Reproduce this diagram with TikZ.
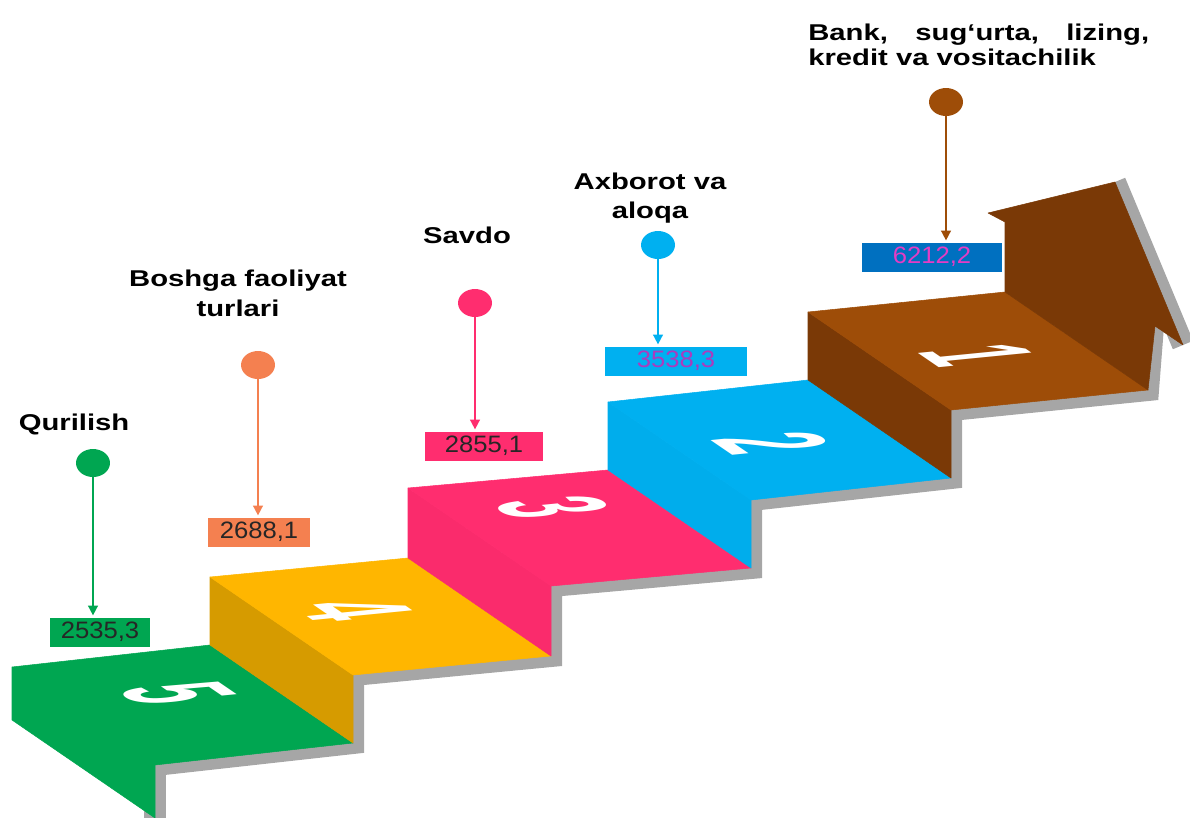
\documentclass[tikz,border=0pt]{standalone}
\usepackage{fontspec}
\usepackage{tikz}
\usepackage{xcolor}
\usetikzlibrary{arrows.meta,shapes.geometric}

\newfontfamily\labfont[FakeStretch=1.28]{Liberation Sans}
\newfontfamily\numfont[FakeStretch=1.08]{Liberation Sans}
\newfontfamily\digfont{Liberation Sans}

\definecolor{grn}{RGB}{0,166,81}
\definecolor{yel}{RGB}{255,182,0}
\definecolor{yeldk}{RGB}{214,155,0}
\definecolor{pnk}{RGB}{255,45,111}
\definecolor{pnkdk}{RGB}{250,43,108}
\definecolor{blu}{RGB}{0,176,240}
\definecolor{bludk}{RGB}{0,173,236}
\definecolor{brn}{RGB}{158,77,8}
\definecolor{brndk}{RGB}{122,57,6}
\definecolor{gry}{RGB}{166,166,166}
\definecolor{org}{RGB}{244,128,80}
\definecolor{dblu}{RGB}{0,112,192}
\definecolor{mag}{RGB}{228,60,196}
\definecolor{pur}{RGB}{170,60,190}

\tikzset{
	stepface/.style={fill=#1, draw=#1, line width=0.3pt, line join=round},
	rim/.style={draw=gry, line width=0.44cm},
	digit/.style={inner sep=0pt, text=white, font=\digfont\bfseries\fontsize{30}{30}\selectfont, cm={0.85,-0.58,2.75,0.27,(0,0)}},
	pinhead/.style={shape=ellipse, minimum width=0.68cm, minimum height=0.56cm, inner sep=0pt, fill=#1},
	val/.style={minimum height=0.58cm, inner sep=0pt, fill=#1, font=\numfont\fontsize{13.5}{15}\selectfont},
	lab/.style={inner sep=0pt, align=center, font=\labfont\bfseries\fontsize{13}{17}\selectfont},
	lead/.style={draw=#1, line width=0.9pt, -{Triangle[length=5.5pt,width=5.5pt]}, shorten >=1pt}
}

\begin{document}
\begin{tikzpicture}[x=0.02cm, y=-0.02cm]
	\useasboundingbox (0,0) rectangle (1190,818);
	
	\draw[rim] (155,840) -- (155,765) -- (353,743) -- (353,675) -- (551,656) -- (551,586) -- (751,568) -- (751,500) -- (951,478) -- (951,410) -- (1148,390) -- (1153,326);
	\draw[rim] (1115,182) -- (1183,345);
	
	\path[stepface=grn] (12,720) -- (12,667) -- (210,645) -- (353,743) -- (155,765) -- (155,818) -- cycle;
	
	\path[stepface=yeldk] (210,645) -- (210,577) -- (353,675) -- (353,743) -- cycle;
	\path[stepface=yel] (210,577) -- (408,558) -- (551,656) -- (353,675) -- cycle;
	
	\path[stepface=pnkdk] (408,558) -- (408,488) -- (551,586) -- (551,656) -- cycle;
	\path[stepface=pnk] (408,488) -- (608,470) -- (751,568) -- (551,586) -- cycle;
	
	\path[stepface=bludk] (608,470) -- (608,402) -- (751,500) -- (751,568) -- cycle;
	\path[stepface=blu] (608,402) -- (808,380) -- (951,478) -- (751,500) -- cycle;
	
	\path[stepface=brndk] (808,380) -- (808,312) -- (951,410) -- (951,478) -- cycle;
	\path[stepface=brn] (808,312) -- (1005,292) -- (1148,390) -- (951,410) -- cycle;
	\path[stepface=brndk] (1005,292) -- (1005,222) -- (988,213) -- (1115,182) -- (1183,345) -- (1155,326) -- (1148,390) -- cycle;
	
	\node[digit] (n5) at (177,693) {5};
	\node[digit] (n4) at (355,610) {4};
	\node[digit] (n3) at (553,507) {3};
	\node[digit] (n2) at (773,443) {2};
	\node[digit] (n1) at (978,355) {1};
	
	\node[lab, anchor=base] (t5) at (74,430) {Qurilish};
	\node[lab, anchor=north] (t4) at (238,270) {Boshga faoliyat\\turlari};
	\node[lab, anchor=base] (t3) at (467,243) {Savdo};
	\node[lab, anchor=north, font=\labfont\bfseries\fontsize{13}{16}\selectfont] (t2) at (650,173) {Axborot va\\aloqa};
	\node[lab, anchor=north west, align=left, font=\labfont\bfseries\fontsize{13}{14.2}\selectfont] (t1) at (808,24) {\makebox[194pt][s]{Bank, sug‘urta, lizing,}\\kredit va vositachilik};
	
	\node[pinhead=grn] (d5) at (93,463) {};
	\node[pinhead=org] (d4) at (258,365) {};
	\node[pinhead=pnk] (d3) at (475,303) {};
	\node[pinhead=blu] (d2) at (658,245) {};
	\node[pinhead=brn] (d1) at (946,102) {};
	
	\node[val=grn, minimum width=2cm, text=black!85] (v5) at (100,632) {2535,3};
	\node[val=org, minimum width=2.04cm, text=black!85] (v4) at (259,532) {2688,1};
	\node[val=pnk, minimum width=2.36cm, text=black!85] (v3) at (484,446) {2855,1};
	\node[val=blu, minimum width=2.84cm, text=pur] (v2) at (676,361) {3538,3};
	\node[val=dblu, minimum width=2.8cm, text=mag] (v1) at (932,257) {6212,2};
	
	\draw[lead=grn] (d5.south) -- (d5.south |- v5.north);
	\draw[lead=org] (d4.south) -- (d4.south |- v4.north);
	\draw[lead=pnk] (d3.south) -- (d3.south |- v3.north);
	\draw[lead=blu] (d2.south) -- (d2.south |- v2.north);
	\draw[lead=brn] (d1.south) -- (d1.south |- v1.north);
	
\end{tikzpicture}
\end{document}
